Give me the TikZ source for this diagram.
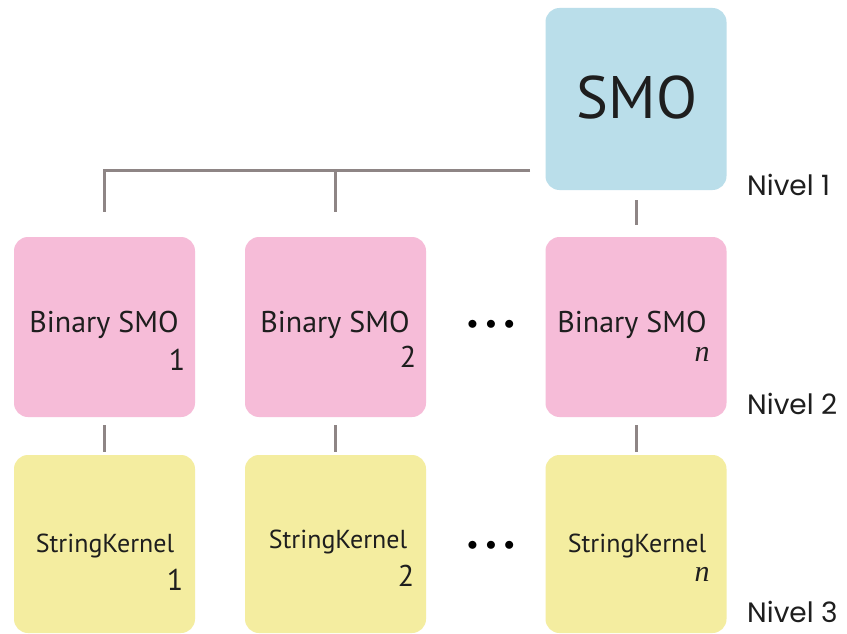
\documentclass[tikz,border=0pt]{standalone}
\usepackage{fontspec}
\setmainfont{PT Sans}
\newfontfamily\nivelfont{Poppins}
\newfontfamily\serifit{Liberation Serif}
\usetikzlibrary{calc}
\definecolor{smoblue}{HTML}{BADEEA}
\definecolor{binpink}{HTML}{F6BCD8}
\definecolor{kernyellow}{HTML}{F4EDA0}
\definecolor{linkgrey}{HTML}{8E8585}
\definecolor{inktext}{HTML}{1E1E1E}
\tikzset{
  box/.style={rounded corners=14pt, minimum width=181pt, inner sep=0pt, draw=none},
  topbox/.style={box, fill=smoblue, minimum height=182pt},
  binbox/.style={box, fill=binpink, minimum height=180pt},
  kernbox/.style={box, fill=kernyellow, minimum height=178pt},
  link/.style={draw=linkgrey, line width=3pt},
  boxtext/.style={text=inktext, font=\fontsize{30}{34}\selectfont, inner sep=0pt},
  kerntext/.style={text=inktext, font=\fontsize{26}{30}\selectfont, inner sep=0pt},
  numtext/.style={text=inktext, font=\fontsize{30}{32}\selectfont, inner sep=0pt},
  ntext/.style={text=inktext, font=\serifit\itshape\fontsize{30}{32}\selectfont, inner sep=0pt},
  dotstext/.style={text=black, font=\fontsize{20}{20}\selectfont, inner sep=0pt},
  leveltext/.style={text=inktext, font=\nivelfont\fontsize{28}{30}\selectfont, inner sep=0pt, anchor=west},
}
\begin{document}
\begin{tikzpicture}[x=1pt, y=-1pt]
  \useasboundingbox[fill=white] (0,0) rectangle (847,634);

  % boxes
  \node[topbox] (smo) at (636,99) {};
  \node[binbox] (b1) at (104.5,327) {};
  \node[binbox] (b2) at (335.5,327) {};
  \node[binbox] (b3) at (636,327) {};
  \node[kernbox] (k1) at (104.5,544) {};
  \node[kernbox] (k2) at (335.5,544) {};
  \node[kernbox] (k3) at (636,544) {};

  % box texts
  \node[text=inktext, font=\fontsize{60}{66}\selectfont, inner sep=0pt] (smot) at (637,98) {SMO};
  \node[boxtext] (b1t) at (104,325) {Binary SMO};
  \node[boxtext] (b2t) at (335,325) {Binary SMO};
  \node[boxtext] (b3t) at (632,325) {Binary SMO};
  \node[numtext] (b1n) at (177,360) {1};
  \node[numtext] (b2n) at (408,357) {2};
  \node[ntext] (b3n) at (702,354) {n};
  \node[kerntext] (k1t) at (105,546) {StringKernel};
  \node[kerntext] (k2t) at (338,542) {StringKernel};
  \node[kerntext] (k3t) at (637,546) {StringKernel};
  \node[numtext] (k1n) at (175,580) {1};
  \node[numtext] (k2n) at (406,576) {2};
  \node[ntext] (k3n) at (702,574) {n};

  % ellipses between columns
  \node[dotstext] (d1) at (491,325) {$\bullet\,\bullet\,\bullet$};
  \node[dotstext] (d2) at (491,546) {$\bullet\,\bullet\,\bullet$};

  % level labels
  \node[leveltext] (l1) at (747,185) {Nivel 1};
  \node[leveltext] (l2) at (747,404) {Nivel 2};
  \node[leveltext] (l3) at (747,612) {Nivel 3};

  % connectors
  \coordinate (busR) at (530,170);
  \coordinate (bus2) at (335.5,170);
  \draw[link] (busR) -| ($(b1.north)+(0,-25)$);
  \draw[link] (bus2) -- ($(b2.north)+(0,-25)$);
  \draw[link, shorten <=10pt, shorten >=12pt] (smo.south) -- (b3.north);
  \draw[link, shorten <=8pt, shorten >=3pt] (b1.south) -- (k1.north);
  \draw[link, shorten <=8pt, shorten >=3pt] (b2.south) -- (k2.north);
  \draw[link, shorten <=8pt, shorten >=3pt] (b3.south) -- (k3.north);
\end{tikzpicture}
\end{document}
